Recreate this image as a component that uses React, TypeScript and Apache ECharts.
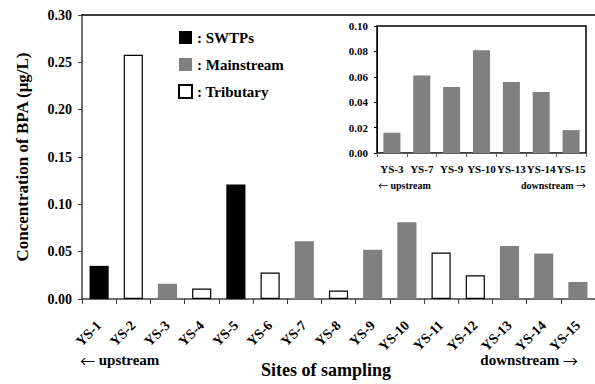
import React, { useEffect, useRef } from "react";
import * as echarts from "echarts";

const sites = ["YS-1","YS-2","YS-3","YS-4","YS-5","YS-6","YS-7","YS-8","YS-9","YS-10","YS-11","YS-12","YS-13","YS-14","YS-15"];
const values = [0.035,0.258,0.016,0.011,0.121,0.028,0.061,0.009,0.052,0.081,0.049,0.025,0.056,0.048,0.018];
const types = ["SWTPs","Tributary","Mainstream","Tributary","SWTPs","Tributary","Mainstream","Tributary","Mainstream","Mainstream","Tributary","Tributary","Mainstream","Mainstream","Mainstream"];
const groups = ["SWTPs","Mainstream","Tributary"];
const mainTicks = [0, 0.05, 0.1, 0.15, 0.2, 0.25, 0.3];
const insetTicks = [0, 0.02, 0.04, 0.06, 0.08, 0.1];

const FONT = "'Liberation Serif', 'Times New Roman', serif";
const ARROW_FONT = "'Noto Sans CJK KR', sans-serif";
const colors: Record<string, any> = {
  SWTPs: { color: "#000000", borderColor: "#000000", borderWidth: 0 },
  Mainstream: { color: "#808080", borderColor: "#808080", borderWidth: 0 },
  Tributary: { color: "#ffffff", borderColor: "#000000", borderWidth: 1.2 },
};

export default function App() {
  const ref = useRef<HTMLDivElement>(null);
  useEffect(() => {
    if (!ref.current) return;
    const chart = echarts.init(ref.current, undefined, { renderer: "svg" });
    const insetCats = sites.filter((_, i) => types[i] === "Mainstream");
    const insetVals = values.filter((_, i) => types[i] === "Mainstream");
    const txt = { fontFamily: FONT, fontWeight: "bold", color: "#000" };
    const arrowText = (x: number, y: number, text: string, size: number, align: string) => ({
      type: "text", x, y, z: 10,
      style: {
        text, textAlign: align, textVerticalAlign: "middle",
        rich: {
          a: { fontFamily: ARROW_FONT, fontSize: size, fill: "#000", fontWeight: "normal" },
          b: { fontFamily: FONT, fontSize: size, fontWeight: "bold", fill: "#000" },
        },
      },
    });
    chart.setOption({
      animation: false,
      backgroundColor: "#fff",
      grid: [
        { left: 82, top: 15, width: 513, height: 284 },
        { left: 377, top: 26, width: 209, height: 127, show: true, borderColor: "#000", borderWidth: 1.5, backgroundColor: "#fff", z: 5 },
      ],
      legend: {
        orient: "vertical",
        left: 178,
        top: 30,
        padding: 0,
        itemWidth: 13,
        itemHeight: 13,
        itemGap: 12,
        icon: "rect",
        data: groups,
        formatter: (n: string) => ": " + n,
        textStyle: { ...txt, fontSize: 15 },
        selectedMode: false,
      },
      xAxis: [
        {
          type: "category", gridIndex: 0, data: sites,
          axisLine: { lineStyle: { color: "#404040", width: 1.5 } },
          axisTick: { show: true, length: 5, lineStyle: { color: "#404040" } },
          axisLabel: { ...txt, fontSize: 14, rotate: 45, interval: 0, margin: 24 },
        },
        {
          type: "category", gridIndex: 0, data: sites, position: "top",
          axisLine: { lineStyle: { color: "#000", width: 1.5 } },
          axisTick: { show: false }, axisLabel: { show: false },
        },
        {
          type: "category", gridIndex: 1, data: insetCats,
          axisLine: { lineStyle: { color: "#606060", width: 1 } },
          axisTick: { show: true, length: 4, lineStyle: { color: "#606060" } },
          axisLabel: { ...txt, fontSize: 11, interval: 0, margin: 10 },
          z: 6,
        },
      ],
      yAxis: [
        {
          type: "value", gridIndex: 0, min: 0, max: 0.3, interval: 0.05,
          axisLine: { show: true, lineStyle: { color: "#404040", width: 1.5 } },
          axisTick: { show: true, length: 4, lineStyle: { color: "#404040" } },
          splitLine: { show: false },
          axisLabel: { ...txt, fontSize: 14, margin: 10, formatter: (v: number) => v.toFixed(2), customValues: mainTicks },
        },
        {
          type: "value", gridIndex: 1, min: 0, max: 0.1, interval: 0.02,
          axisLine: { show: true, lineStyle: { color: "#000", width: 1 } },
          axisTick: { show: true, length: 3, lineStyle: { color: "#000" } },
          splitLine: { show: false },
          axisLabel: { ...txt, fontSize: 11, margin: 9, formatter: (v: number) => v.toFixed(2), customValues: insetTicks },
          z: 6,
        },
      ],
      series: [
        ...groups.map((g) => ({
          name: g, type: "bar", stack: "all", xAxisIndex: 0, yAxisIndex: 0, barWidth: "56%",
          itemStyle: colors[g],
          data: values.map((v, i) => (types[i] === g ? v : "-")),
        })),
        {
          name: "inset", type: "bar", xAxisIndex: 2, yAxisIndex: 1, barWidth: "57%", z: 7,
          itemStyle: { color: "#808080" },
          data: insetVals,
        },
      ],
      graphic: [
        { type: "text", x: 22, y: 157, rotation: Math.PI / 2, style: { text: "Concentration of BPA (μg/L)", font: `bold 17px ${FONT}`, fill: "#000", textAlign: "center", textVerticalAlign: "middle" } },
        { type: "text", x: 326, y: 370, style: { text: "Sites of sampling", font: `bold 18px ${FONT}`, fill: "#000", textAlign: "center", textVerticalAlign: "middle" } },
        arrowText(80, 360, "{a|←}{b| upstream}", 15, "left"),
        arrowText(578, 360, "{b|downstream }{a|→}", 15, "right"),
        arrowText(378, 185, "{a|←}{b| upstream}", 10, "left"),
        arrowText(586, 185, "{b|downstream }{a|→}", 10, "right"),
      ],
    });
    return () => chart.dispose();
  }, []);
  return <div ref={ref} style={{ width: 595, height: 384, position: "absolute", left: 0, top: 0 }} />;
}
